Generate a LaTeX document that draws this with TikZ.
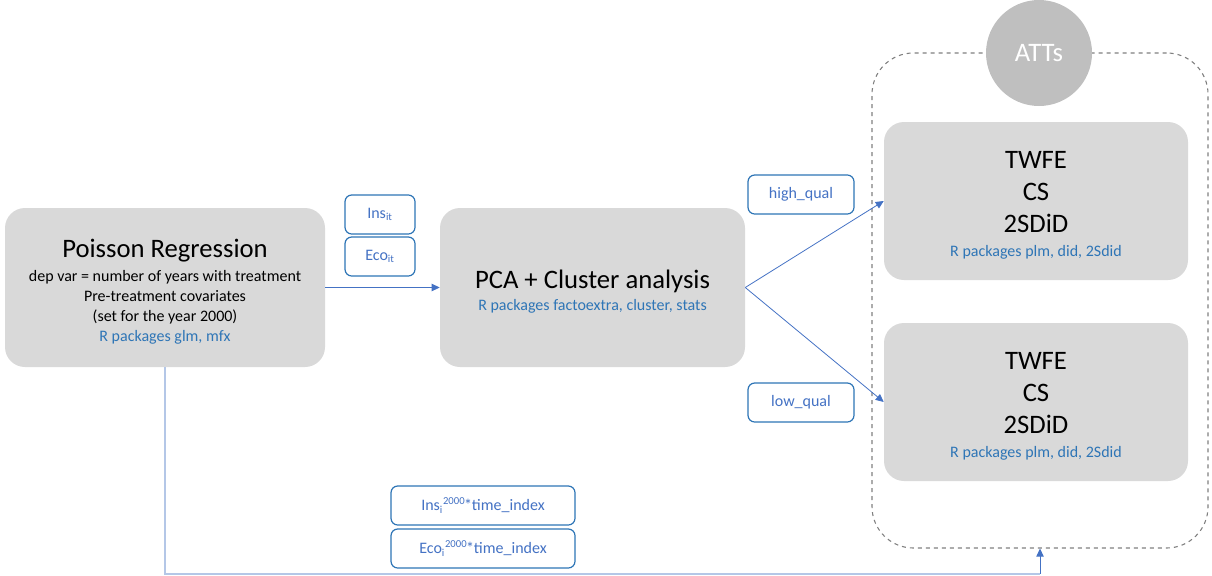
\documentclass[tikz,border=0pt]{standalone}
\usepackage{fontspec}
\setmainfont{Carlito}
\usetikzlibrary{arrows.meta}
\definecolor{boxgray}{HTML}{D9D9D9}
\definecolor{circgray}{HTML}{BFBFBF}
\definecolor{dashgray}{HTML}{7F7F7F}
\definecolor{arrowblue}{HTML}{4472C4}
\definecolor{paleblue}{HTML}{B4C7E7}
\definecolor{edgeblue}{HTML}{2E75B6}
\newcommand{\pkg}[1]{{\fontsize{12}{15}\selectfont\color{edgeblue}#1}}
\newcommand{\bigline}[1]{{\fontsize{20}{24}\selectfont\rule{0pt}{20.5pt}#1}}
\begin{document}
\begin{tikzpicture}[x=0.75pt,y=-0.75pt,
    stage/.style={fill=boxgray,rounded corners=15pt,inner sep=0pt,align=center,
        font=\fontsize{12}{15}\selectfont},
    estim/.style={stage,minimum width=228pt,minimum height=118.5pt,
        font=\fontsize{20}{24}\selectfont},
    tag/.style={draw=edgeblue,line width=0.9pt,fill=white,rounded corners=5pt,
        inner sep=0pt,minimum height=29.25pt,text=arrowblue,
        font=\fontsize{12}{14}\selectfont},
    flow/.style={draw=arrowblue,line width=0.6pt,-{Triangle[length=6pt,width=5.5pt]}}]
    \useasboundingbox (0,0) rectangle (1212,575);
    % dashed frame round the ATT estimators
    \node[draw=dashgray,dashed,line width=0.8pt,rounded corners=31pt,
        minimum width=252pt,minimum height=371.25pt] (frame) at (1040,300.5) {};
    \node[circle,fill=circgray,minimum size=79.5pt,inner sep=0pt,text=white,
        font=\fontsize{20}{24}\selectfont] (atts) at (1039,53) {ATTs};
    % stages
    \node[stage,minimum width=240pt,minimum height=119.25pt] (poisson) at (165,287.5)
        {\bigline{Poisson Regression}\\[3pt]
        dep var = number of years with treatment\\
        Pre-treatment covariates\\
        (set for the year 2000)\\
        \pkg{R packages glm, mfx}};
    \node[stage,minimum width=228.75pt,minimum height=119.25pt] (pca) at (592.5,287.5)
        {\bigline{PCA + Cluster analysis}\\[1.75pt]
        \pkg{R packages factoextra, cluster, stats}};
    \node[estim] (twfehigh) at (1036,201)
        {\rule{0pt}{19pt}TWFE\\CS\\2SDiD\\[-6pt]\pkg{R packages plm, did, 2Sdid}};
    \node[estim] (twfelow) at (1036,402)
        {\rule{0pt}{19pt}TWFE\\CS\\2SDiD\\[-6pt]\pkg{R packages plm, did, 2Sdid}};
    % variable tags
    \node[tag,minimum width=52.5pt] (ins) at (380,214.5) {Ins\textsubscript{it}};
    \node[tag,minimum width=52.5pt] (eco) at (380,256.5) {Eco\textsubscript{it}};
    \node[tag,minimum width=79.5pt] (high) at (801,194.5) {high\_qual};
    \node[tag,minimum width=79.5pt] (low) at (801,402.5) {low\_qual};
    \node[tag,minimum width=138pt] (instime) at (483,505.5)
        {Ins\textsubscript{i}\textsuperscript{2000}\kern-1pt*time\_index};
    \node[tag,minimum width=138pt] (ecotime) at (483,548.5)
        {Eco\textsubscript{i}\textsuperscript{2000}\kern-1pt*time\_index};
    % connectors
    \draw[flow] (poisson.east) -- (pca.west);
    \draw[flow] (pca.east) -- (twfehigh.west);
    \draw[flow] (pca.east) -- (twfelow.west);
    \coordinate (turn) at (165,573.5);
    \draw[paleblue,line width=1.5pt] (poisson.south) -- (turn) -- (turn -| frame.south);
    \draw[flow] (turn -| frame.south) -- (frame.south);
\end{tikzpicture}
\end{document}
